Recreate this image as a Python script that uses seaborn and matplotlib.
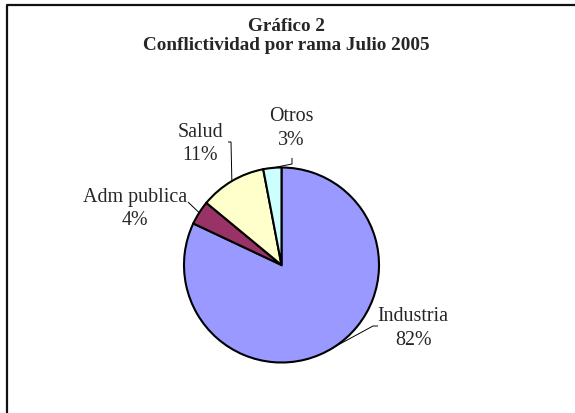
import numpy as np
import matplotlib
matplotlib.use("Agg")
import matplotlib.pyplot as plt
import seaborn as sns

# data
categories = ["Industria", "Adm publica", "Salud", "Otros"]
shares = [82, 4, 11, 3]
colors = ["#9999FF", "#993366", "#FFFFCC", "#CCFFFF"]

title = "Gráfico 2\nConflictividad por rama Julio 2005"

sns.set_style("white")
plt.rcParams["font.family"] = ["Liberation Serif", "DejaVu Serif"]

W, H = 575, 414
fig = plt.figure(figsize=(W / 100, H / 100), dpi=100)
ax = fig.add_axes([0, 0, 1, 1])

# pie geometry (pixel layout, y measured from bottom)
cx, cy, r = 281.5, H - 266, 97.5

wedges, _ = ax.pie(shares, colors=colors, startangle=90, counterclock=False,
                   center=(cx, cy), radius=r,
                   wedgeprops=dict(edgecolor="black", linewidth=1.5))
ax.set_xlim(0, W)
ax.set_ylim(0, H)
ax.set_aspect("equal")
ax.axis("off")

# label positions and leader-line anchors (pixels from top-left)
label_pos = {"Industria": (413, 328.5), "Adm publica": (135, 209),
             "Salud": (200, 144), "Otros": (291, 128.5)}
leader_pts = {"Industria": [(373, 327), (378, 327)],
              "Adm publica": [(188, 203)],
              "Salud": [(231, 143), (228, 143)],
              "Otros": [(292, 165), (292, 159)]}

total = sum(shares)
cum = 0
for cat, val in zip(categories, shares):
    mid = 90 - 360 * (cum + val / 2) / total
    cum += val
    ex = cx + r * np.cos(np.radians(mid))
    ey = cy + r * np.sin(np.radians(mid))
    xs = [ex] + [p[0] for p in leader_pts[cat]]
    ys = [ey] + [H - p[1] for p in leader_pts[cat]]
    ax.plot(xs, ys, color="black", lw=0.7, solid_capstyle="butt")
    lx, ly = label_pos[cat]
    pct = round(100 * val / total)
    ax.text(lx, H - ly, f"{cat}\n{pct}%", ha="center", va="center",
            fontsize=14.4, linespacing=1.35)

ax.text(286, H - 36, title, ha="center", va="center", fontsize=13.8,
        fontweight="bold", linespacing=1.2)

# chart-area border (only top and left visible in the crop)
ax.plot([7, 7, W + 5], [-5, H - 5.5, H - 5.5], color="#111111", lw=1.6,
        clip_on=False)

fig.savefig("out.png", dpi=100)
